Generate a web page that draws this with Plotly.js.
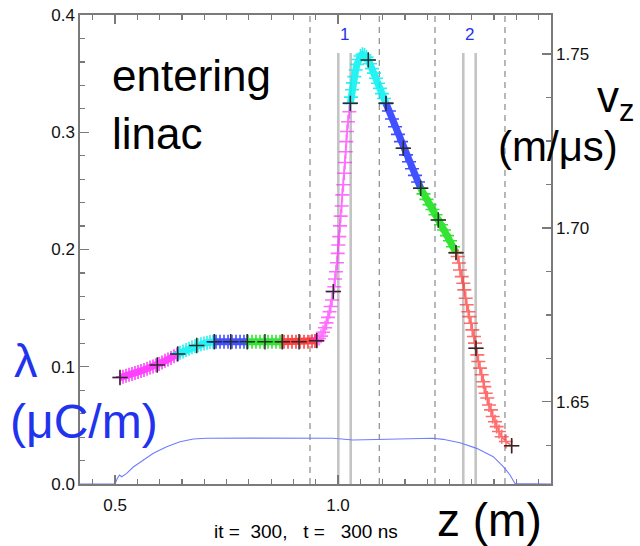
<!DOCTYPE html>
<html>
<head>
<meta charset="utf-8">
<script src="https://cdn.plot.ly/plotly-3.0.1.min.js"></script>
<style>
  html, body { margin: 0; padding: 0; background: #fff; }
  #chart { width: 640px; height: 546px; }
</style>
</head>
<body>
<div id="chart"></div>
<script>
// Line charge density of the beam, lambda (uC/m) along z (m)
const lambdaZ = [0.4215, 0.5, 0.5045, 0.5101, 0.5150, 0.5262, 0.5410, 0.5635, 0.5859, 0.6159,
  0.6457, 0.6756, 0.7056, 0.8027, 0.9148, 0.9888, 1.0336, 1.0942, 1.1614, 1.2130,
  1.2354, 1.2735, 1.3110, 1.3482, 1.3706, 1.3857, 1.3969, 1.4776];
const lambdaVal = [0, 0, 0.0043, 0.0077, 0.0062, 0.0091, 0.0145, 0.0205, 0.0262, 0.0318,
  0.0361, 0.0384, 0.0390, 0.0391, 0.0390, 0.0390, 0.0375, 0.0381, 0.0388, 0.0390,
  0.0381, 0.0352, 0.0304, 0.0233, 0.0148, 0.0077, 0.0004, 0];

// Macro-particle longitudinal velocity v_z (m/us) against z (m)
const vzZ = [
  0.5112, 0.5179, 0.5247, 0.5314, 0.5381, 0.5448, 0.5516, 0.5583, 0.5650, 0.5718,
  0.5785, 0.5852, 0.5919, 0.5987, 0.6054, 0.6121, 0.6188, 0.6256, 0.6323, 0.6390,
  0.6457, 0.6525, 0.6592, 0.6659, 0.6726, 0.6794, 0.6861, 0.6928, 0.6996, 0.7063,
  0.7130, 0.7197,
  0.7265, 0.7354, 0.7444, 0.7534, 0.7623, 0.7713, 0.7803, 0.7892, 0.7982, 0.8072,
  0.8161, 0.8251, 0.8341, 0.8431, 0.8520, 0.8610, 0.8700, 0.8789, 0.8879, 0.8969,
  0.9058, 0.9148, 0.9238, 0.9327, 0.9417, 0.9484,
  0.9529, 0.9574, 0.9619, 0.9664, 0.9709, 0.9742, 0.9776, 0.9810, 0.9836, 0.9866,
  0.9895, 0.9917, 0.9933, 0.9955, 0.9978, 0.9993, 1.0007, 1.0029, 1.0045, 1.0061,
  1.0083, 1.0097, 1.0119, 1.0141, 1.0157, 1.0173, 1.0186, 1.0202, 1.0224, 1.0253,
  1.0292, 1.0314, 1.0336, 1.0366, 1.0397, 1.0426, 1.0464, 1.0504, 1.0549, 1.0594,
  1.0639, 1.0679, 1.0717, 1.0762, 1.0807, 1.0852, 1.0897, 1.0942, 1.0987, 1.1031,
  1.1143, 1.1211, 1.1278, 1.1345, 1.1413, 1.1464, 1.1525, 1.1592, 1.1659, 1.1726, 1.1794,
  1.1917, 1.1984, 1.2052, 1.2119, 1.2186, 1.2249, 1.2309, 1.2377, 1.2444, 1.2511, 1.2578,
  1.2684, 1.2713, 1.2735, 1.2774, 1.2809, 1.2832, 1.2863, 1.2886, 1.2922, 1.2944,
  1.2982, 1.3011, 1.3049, 1.3072, 1.3094, 1.3123, 1.3146, 1.3184, 1.3222, 1.3258,
  1.3280, 1.3312, 1.3348, 1.3386, 1.3431, 1.3469, 1.3520, 1.3558, 1.3610, 1.3670, 1.3767
];
const vzVal = [
  1.6569, 1.6572, 1.6575, 1.6578, 1.6580, 1.6583, 1.6586, 1.6589, 1.6592, 1.6595,
  1.6599, 1.6602, 1.6605, 1.6609, 1.6613, 1.6618, 1.6622, 1.6626, 1.6631, 1.6636,
  1.6641, 1.6645, 1.6649, 1.6653, 1.6657, 1.6660, 1.6663, 1.6666, 1.6668, 1.6670,
  1.6672, 1.6673,
  1.6673, 1.6673, 1.6673, 1.6673, 1.6673, 1.6673, 1.6673, 1.6673, 1.6673, 1.6673,
  1.6673, 1.6673, 1.6673, 1.6673, 1.6673, 1.6673, 1.6673, 1.6673, 1.6673, 1.6673,
  1.6673, 1.6673, 1.6673, 1.6673, 1.6674, 1.6675,
  1.6677, 1.6682, 1.6689, 1.6700, 1.6713, 1.6727, 1.6743, 1.6759, 1.6774, 1.6793,
  1.6817, 1.6831, 1.6853, 1.6874, 1.6900, 1.6927, 1.6951, 1.6975, 1.7006, 1.7034,
  1.7063, 1.7095, 1.7124, 1.7157, 1.7188, 1.7219, 1.7248, 1.7277, 1.7305, 1.7334,
  1.7376, 1.7397, 1.7417, 1.7435, 1.7454, 1.7470, 1.7484, 1.7494, 1.7499, 1.7497,
  1.7491, 1.7483, 1.7472, 1.7458, 1.7445, 1.7430, 1.7416, 1.7401, 1.7386, 1.7372,
  1.7336, 1.7313, 1.7291, 1.7269, 1.7248, 1.7229, 1.7210, 1.7190, 1.7170, 1.7151, 1.7132,
  1.7098, 1.7082, 1.7067, 1.7053, 1.7038, 1.7023, 1.7009, 1.6994, 1.6978, 1.6963, 1.6946,
  1.6918, 1.6899, 1.6879, 1.6860, 1.6841, 1.6822, 1.6798, 1.6779, 1.6759, 1.6745,
  1.6726, 1.6707, 1.6688, 1.6669, 1.6654, 1.6635, 1.6616, 1.6597, 1.6578, 1.6558,
  1.6544, 1.6525, 1.6511, 1.6491, 1.6477, 1.6458, 1.6443, 1.6429, 1.6415, 1.6400, 1.6386
];

// Tagged particles (black crosses); each colour group spans two tag intervals
const tagZ = [0.5112, 0.5948, 0.6406, 0.6832, 0.7227, 0.7594, 0.7966, 0.8363, 0.8751, 0.9126,
  0.9522, 0.9895, 1.0276, 1.0679, 1.1076, 1.1464, 1.1854, 1.2249, 1.2646, 1.3094, 1.3894];
const tagVal = [1.6570, 1.6606, 1.6638, 1.6662, 1.6673, 1.6673, 1.6673, 1.6673, 1.6673, 1.6673,
  1.6676, 1.6817, 1.7358, 1.7483, 1.7358, 1.7229, 1.7114, 1.7023, 1.6929, 1.6654, 1.6374];

// Accelerating gaps: dashed boundaries and solid electrode edges, with gap numbers
const dashedZ = [0.9372, 1.0926, 1.2175, 1.3744];
const gapEdgeZ = [1.0007, 1.0285, 1.2809, 1.3087];
const gapNames = ['1', '2'];

const groupColors = ['#ff22ff', '#00f0f0', '#2233ff', '#11e011', '#ff2020'];
const groupBandWidth = [7, 7, 7, 7, 7, 1.6, 7, 7, 7, 1.6];
const groupOpacity = [0.85, 0.85, 0.85, 0.85, 0.85, 0.65, 0.85, 0.85, 0.85, 0.65];

// plot-area geometry used to place the free text labels
const PL = 80, PT = 15, PW = 471, PH = 469;
const px = x => (x - PL) / PW;
const py = y => (PT + PH - y) / PH;

const traces = [];

traces.push({
  x: lambdaZ, y: lambdaVal, yaxis: 'y', mode: 'lines',
  line: { color: '#6f7dff', width: 1.1 }, hoverinfo: 'skip'
});

const nGroups = (tagZ.length - 1) / 2;
for (let g = 0; g < nGroups; g++) {
  const lo = tagZ[2 * g], hi = tagZ[2 * g + 2];
  const xs = [lo], ys = [tagVal[2 * g]];
  for (let i = 0; i < vzZ.length; i++) {
    if (vzZ[i] > lo && vzZ[i] < hi) { xs.push(vzZ[i]); ys.push(vzVal[i]); }
  }
  xs.push(hi); ys.push(tagVal[2 * g + 2]);
  const c = groupColors[g % groupColors.length];
  traces.push({
    x: xs, y: ys, yaxis: 'y2', mode: 'lines+markers', opacity: groupOpacity[g],
    line: { color: c, width: groupBandWidth[g] },
    marker: { symbol: 'cross-thin', size: 10, line: { color: c, width: 1.6 } },
    hoverinfo: 'skip'
  });
}

traces.push({
  x: tagZ, y: tagVal, yaxis: 'y2', mode: 'markers',
  marker: { symbol: 'cross-thin', size: 11, line: { color: '#2a2a2a', width: 1.5 } },
  hoverinfo: 'skip'
});

const shapes = [];
dashedZ.forEach(z => shapes.push({
  type: 'line', xref: 'x', yref: 'paper', x0: z, x1: z, y0: 0, y1: 1, layer: 'below',
  line: { color: '#8a8a8a', width: 1.2, dash: '6px,5px' }
}));
gapEdgeZ.forEach(z => shapes.push({
  type: 'line', xref: 'x', yref: 'paper', x0: z, x1: z, y0: 0, y1: py(53), layer: 'below',
  line: { color: '#c4c4c4', width: 2.6 }
}));

const FONT = '"Liberation Sans", Arial, Helvetica, sans-serif';
const annotations = [];
function label(text, x, y, size, color) {
  annotations.push({
    text: text, xref: 'paper', yref: 'paper', x: px(x), y: py(y),
    xanchor: 'left', yanchor: 'middle', showarrow: false,
    font: { family: FONT, size: size, color: color }
  });
}
gapNames.forEach((name, i) => annotations.push({
  text: name, xref: 'x', yref: 'paper',
  x: (gapEdgeZ[2 * i] + gapEdgeZ[2 * i + 1]) / 2, y: py(35),
  xanchor: 'center', yanchor: 'middle', showarrow: false,
  font: { family: FONT, size: 17, color: '#2233ee' }
}));
label('entering', 110, 75, 44, '#000');
label('linac', 110, 133, 44, '#000');
label('v<sub>z</sub>', 595, 100, 44, '#000');
label('(m/\u03bcs)', 496, 146, 42, '#000');
label('\u03bb', 12, 360, 47, '#2233ee');
label('(\u03bcC/m)', 8, 421, 48, '#2233ee');
label('z (m)', 435, 520, 46, '#000');
label('it =\u00a0\u00a0300,\u00a0\u00a0\u00a0t =\u00a0\u00a0\u00a0300 ns', 212, 531, 19, '#000');

const axisCommon = {
  showgrid: false, zeroline: false, showline: true, linecolor: '#7a7a7a', linewidth: 1.6,
  ticks: 'inside', tickcolor: '#7a7a7a', tickwidth: 1.2, ticklen: 9,
  tickfont: { family: FONT, size: 17, color: '#111' }
};

const layout = {
  width: 640, height: 546,
  margin: { l: PL, r: 640 - PL - PW, t: PT, b: 546 - PT - PH, pad: 0 },
  paper_bgcolor: '#fff', plot_bgcolor: '#fff',
  showlegend: false,
  xaxis: Object.assign({}, axisCommon, {
    range: [0.4215, 1.4776], tick0: 0.5, dtick: 0.5, tickformat: '.1f', mirror: 'ticks',
    ticklabelstandoff: 5,
    minor: { dtick: 0.05, tick0: 0.5, ticks: 'inside', ticklen: 5, tickcolor: '#7a7a7a', showgrid: false }
  }),
  yaxis: Object.assign({}, axisCommon, {
    range: [0, 0.4], tick0: 0, dtick: 0.1, tickformat: '.1f',
    minor: { dtick: 0.02, tick0: 0, ticks: 'inside', ticklen: 5, tickcolor: '#7a7a7a', showgrid: false }
  }),
  yaxis2: Object.assign({}, axisCommon, {
    overlaying: 'y', side: 'right', range: [1.6264, 1.7612], tick0: 1.65, dtick: 0.05, tickformat: '.2f',
    minor: { dtick: 0.0125, tick0: 1.65, ticks: 'inside', ticklen: 5, tickcolor: '#7a7a7a', showgrid: false }
  }),
  shapes: shapes,
  annotations: annotations
};

Plotly.newPlot('chart', traces, layout, { staticPlot: true, displayModeBar: false });
</script>
</body>
</html>
